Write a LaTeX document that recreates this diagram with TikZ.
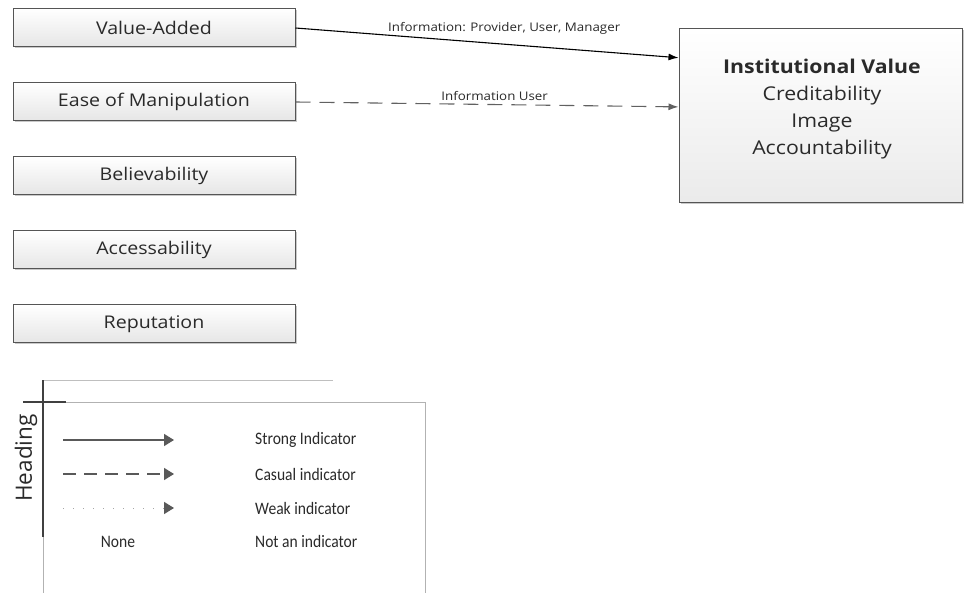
\documentclass[tikz,border=0pt]{standalone}
\usepackage{fontspec}
\setmainfont{Open Sans}
\newfontfamily\widefont[FakeStretch=1.12]{Open Sans}
\newfontfamily\legendfont[FakeStretch=0.89]{Carlito}
\usetikzlibrary{arrows.meta,shadows,calc}

\definecolor{edgegray}{HTML}{555555}
\definecolor{textgray}{HTML}{2A2A2A}

\tikzset{
  factor/.style={
    draw=edgegray, line width=1pt,
    shading=axis, top color=white, bottom color=black!10,
    drop shadow={shadow xshift=1.5pt, shadow yshift=-1.5pt, opacity=0.35, fill=black!60},
    minimum width=282pt, minimum height=38pt, inner sep=0pt,
    font=\widefont\fontsize{17.5}{20}\selectfont, text=textgray
  },
  outcome/.style={
    draw=edgegray, line width=1pt,
    shading=axis, top color=white, bottom color=black!8,
    drop shadow={shadow xshift=1.5pt, shadow yshift=-1.5pt, opacity=0.35, fill=black!60},
    minimum width=283pt, minimum height=174pt, inner sep=0pt
  },
  linklabel/.style={font=\widefont\fontsize{11.9}{14}\selectfont, text=textgray, inner sep=1pt},
  strong/.style={line width=1.1pt, draw=black, -{Latex[length=10pt,width=7pt]}},
  casual/.style={line width=1.1pt, draw=black!62, dash pattern=on 15pt off 9pt,
    -{Latex[length=10pt,width=7pt]}},
  keyline/.style={line width=1.4pt, draw=black!65},
  keytip/.style={-{Triangle[length=10pt,width=12pt]}},
  keyfont/.style={font=\legendfont\fontsize{17.5}{20}\selectfont, text=textgray},
  keytext/.style={keyfont, anchor=west, inner sep=0pt}
}

\begin{document}
\begin{tikzpicture}[x=1pt, y=-1pt]
  \useasboundingbox[fill=white] (0,0) rectangle (966,593);

  % quality factors
  \node[factor] (va)  at (154,28)  {Value-Added};
  \node[factor] (eom) at (154,102) {Ease of Manipulation};
  \node[factor] (bel) at (154,176) {Believability};
  \node[factor] (acc) at (154,250) {Accessability};
  \node[factor] (rep) at (154,324) {Reputation};

  % outcome box
  \node[outcome] (iv) at (820.5,116) {};
  \node[align=center, text=textgray, font=\widefont\fontsize{19}{27}\selectfont] (ivtext) at (822,109)
    {{\bfseries Institutional Value}\\Creditability\\Image\\Accountability};

  \coordinate (ivin1) at ($(iv.north west)!0.167!(iv.south west)$);
  \coordinate (ivin2) at ($(iv.north west)!0.448!(iv.south west)$);

  % indicator links
  \draw[strong] (va.east) -- node[linklabel, pos=0.545, yshift=16pt] (l1) {Information: Provider, User, Manager} (ivin1);
  \draw[casual] (eom.east) -- node[linklabel, pos=0.52, anchor=south, yshift=2pt] (l2) {Information User} (ivin2);

  % legend frame
  \draw[black!25, line width=0.8pt] (43,380) -- (333,380);
  \draw[black!30, line width=0.8pt] (43,593) -- (43,402) -- (425,402) -- (425,593);
  \draw[black!75, line width=1.2pt] (43,380) -- (43,537);
  \draw[black!75, line width=1.2pt] (23,402) -- (66,402);
  \node[rotate=90, text=textgray, font=\fontsize{22.5}{26}\selectfont] (heading) at (26,458) {Heading};

  % legend samples
  \coordinate (s0) at (63,440);  \coordinate (s1) at (174,440);
  \coordinate (c0) at (63,474);  \coordinate (c1) at (174,474);
  \coordinate (w0) at (63,508);  \coordinate (w1) at (174,508);
  \draw[keyline, keytip] (s0) -- (s1);
  \draw[keyline, keytip, dash pattern=on 13pt off 8pt] (c0) -- (c1);
  \draw[keyline, draw=black!35, line width=1pt, dash pattern=on 1pt off 9pt] (w0) -- ($(w1)+(-9,0)$);
  \draw[keyline, keytip, draw=black!65] ($(w1)+(-10,0)$) -- (w1);
  \node[keyfont] (none) at (118,542) {None};

  \node[keytext] (kstrong) at (255,440) {Strong Indicator};
  \node[keytext] (kcasual) at (255,474) {Casual indicator};
  \node[keytext] (kweak)   at (255,508) {Weak indicator};
  \node[keytext] (knone)   at (255,541) {Not an indicator};
\end{tikzpicture}
\end{document}
